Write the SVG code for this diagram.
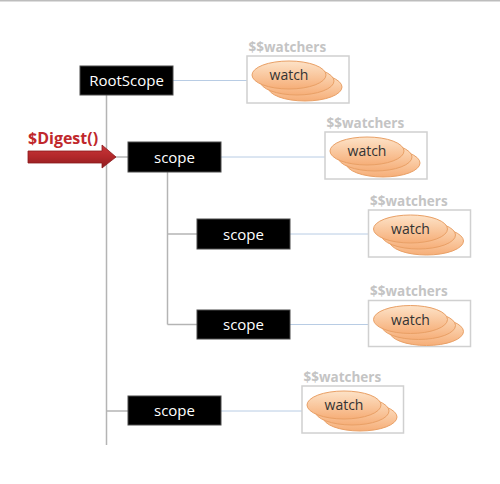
<svg xmlns="http://www.w3.org/2000/svg" width="500" height="484" viewBox="0 0 500 484">
<style>
.node rect{fill:#000;stroke:#4a4a4a;stroke-width:1}
.node text{fill:#fff;font-family:"Open Sans","Noto Sans",sans-serif;font-size:15px;text-anchor:middle}
.tree{stroke:#b4b4b4;stroke-width:1.5;fill:none}
.link{stroke:#b8cce4;stroke-width:1;fill:none}
.wbox{fill:#fff;stroke:#d0d0d0;stroke-width:1.5}
.wlabel{fill:#c4c4c4;font-family:"Open Sans","Noto Sans",sans-serif;font-size:13.5px;font-weight:bold}
.ell{fill:url(#eg);stroke:#e9a066;stroke-width:1}
.wtext{fill:#333;font-family:"Open Sans","Noto Sans",sans-serif;font-size:14px;text-anchor:middle}
</style>
<defs>
<linearGradient id="eg" x1="0" y1="0" x2="0" y2="1">
<stop offset="0" stop-color="#fde3c8"/>
<stop offset="1" stop-color="#f6ae78"/>
</linearGradient>
<linearGradient id="ag" x1="0" y1="0" x2="0" y2="1">
<stop offset="0" stop-color="#c9373a"/>
<stop offset="0.5" stop-color="#b3282b"/>
<stop offset="1" stop-color="#8e1c1f"/>
</linearGradient>
<g id="stack">
<ellipse class="ell" cx="58" cy="31" rx="37" ry="14"/>
<ellipse class="ell" cx="50" cy="25" rx="37" ry="14"/>
<ellipse class="ell" cx="42" cy="19" rx="37" ry="14"/>
<text class="wtext" x="42" y="24">watch</text>
</g>
</defs>
<rect width="500" height="484" fill="#fff"/>
<line x1="0" y1="0.75" x2="500" y2="0.75" stroke="#bdbdbd" stroke-width="1.5"/>

<g id="connectors">
<line class="tree" x1="106.5" y1="95" x2="106.5" y2="445"/>
<line class="tree" x1="106.5" y1="157" x2="128" y2="157"/>
<line class="tree" x1="106.5" y1="411" x2="128" y2="411"/>
<line class="tree" x1="167.5" y1="172" x2="167.5" y2="324.5"/>
<line class="tree" x1="167.5" y1="234" x2="197" y2="234"/>
<line class="tree" x1="167.5" y1="324.5" x2="197" y2="324.5"/>
<line class="link" x1="173" y1="80.5" x2="247" y2="80.5"/>
<line class="link" x1="221" y1="157" x2="325" y2="157"/>
<line class="link" x1="290" y1="234" x2="368" y2="234"/>
<line class="link" x1="290" y1="324.5" x2="368" y2="324.5"/>
<line class="link" x1="221" y1="411" x2="302" y2="411"/>
</g>

<g id="digest">
<text x="28" y="144" fill="#c0282c" font-family="'Open Sans','Noto Sans',sans-serif" font-size="16" font-weight="bold">$Digest()</text>
<path d="M28,151 H102 V145 L116,157 L102,168 V163 H28 Z" fill="url(#ag)" stroke="#8a1a1d" stroke-width="0.8"/>
</g>

<g id="rootscope" class="node">
<rect x="80" y="66" width="93" height="29"/>
<text x="126.5" y="86">RootScope</text>
</g>
<g id="scope1" class="node">
<rect x="128" y="142" width="93" height="30"/>
<text x="174.5" y="162.5">scope</text>
</g>
<g id="scope2" class="node">
<rect x="197" y="219" width="93" height="30"/>
<text x="243.5" y="239.5">scope</text>
</g>
<g id="scope3" class="node">
<rect x="197" y="310" width="93" height="29"/>
<text x="243.5" y="330">scope</text>
</g>
<g id="scope4" class="node">
<rect x="128" y="396" width="93" height="29"/>
<text x="174.5" y="416">scope</text>
</g>

<g id="watchers1">
<text class="wlabel" x="248.5" y="51.5">$$watchers</text>
<rect class="wbox" x="247" y="56" width="102" height="47"/>
<use href="#stack" x="247" y="56"/>
</g>
<g id="watchers2">
<text class="wlabel" x="326.5" y="127.5">$$watchers</text>
<rect class="wbox" x="325" y="132" width="102" height="47"/>
<use href="#stack" x="325" y="132"/>
</g>
<g id="watchers3">
<text class="wlabel" x="370" y="205.5">$$watchers</text>
<rect class="wbox" x="368.5" y="210" width="102" height="47"/>
<use href="#stack" x="368.5" y="210"/>
</g>
<g id="watchers4">
<text class="wlabel" x="370" y="296">$$watchers</text>
<rect class="wbox" x="368.5" y="300.5" width="102" height="46"/>
<use href="#stack" x="368.5" y="300.5"/>
</g>
<g id="watchers5">
<text class="wlabel" x="303.5" y="381.5">$$watchers</text>
<rect class="wbox" x="302" y="386" width="101.5" height="47"/>
<use href="#stack" x="302" y="386"/>
</g>
</svg>
